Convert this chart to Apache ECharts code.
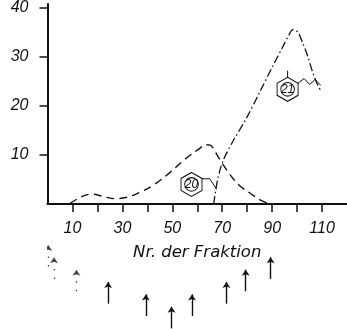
<!DOCTYPE html>
<html>
<head>
<meta charset="utf-8">
<script src="https://cdn.jsdelivr.net/npm/echarts@6/dist/echarts.min.js"></script>
<style>
  html, body { margin: 0; padding: 0; background: #fff; }
  #chart { width: 347px; height: 329px; }
</style>
</head>
<body>
<div id="chart"></div>
<script>
// Fraction axis ticks and labels
const fractionTicks = [10, 20, 30, 40, 50, 60, 70, 80, 90, 100, 110];
const fractionLabels = [10, 30, 50, 70, 90, 110];
const valueTicks = [10, 20, 30, 40];

// Elution curve of compound 20 (dashed)
const curve20 = [
  [9, 0.1], [13.7, 1.5], [17.7, 2.0], [22, 1.6], [27, 1.1], [32, 1.4],
  [37, 2.4], [42.3, 3.8], [49, 6.4], [55, 9.1], [60.3, 11.1], [63.7, 12.1],
  [65.2, 12.0], [67, 10.8], [69, 9.1], [71.7, 7.0], [75, 4.8], [78, 3.3],
  [81.2, 2.2], [85, 0.9], [88.5, 0.1]
];

// Elution curve of compound 21 (dash-dot)
const curve21 = [
  [66.6, 0], [67.2, 2.2], [68.3, 5.3], [70.3, 8.8], [74.3, 12.8], [79.7, 17.5],
  [85, 22.8], [90.3, 28.2], [94.3, 32.1], [96.5, 34.3], [98.3, 35.6],
  [100.3, 35.1], [102.3, 32.8], [104.3, 30.1], [106.3, 26.8], [108.5, 24.0],
  [109.5, 23.2]
];

// Structure markers: ring centre and side chain for each compound
const ring20 = [57.7, 4.0];
const chain20 = [[61.7, 5.15], [65, 5.15], [67.8, 3.0]];
const ring21 = [96.2, 23.4];
const chain21 = [[100.2, 24.6], [102.8, 25.6], [105, 24.4], [107.2, 25.4], [109.5, 24.2]];
const stub21 = [[96.2, 25.7], [96.2, 27.2]];

// Addition marks below the axis: fraction number and row (0 = top row)
const arrowFractions = [0.3, 2.6, 11.6, 24.3, 39.4, 49.7, 57.9, 71.7, 79.4, 89.4];
const arrowRows = [0, 1, 2, 3, 4, 5, 4, 3, 2, 1];
const arrowFaint = [true, true, true, false, false, false, false, false, false, false];
const arrowLength = 1.75;

const ink = '#111';
const tickFont = { fontFamily: 'Liberation Sans', fontStyle: 'italic', fontSize: 16, color: ink };
const nameFont = { fontFamily: 'DejaVu Sans', fontStyle: 'italic', fontSize: 16.5, color: ink };

const hexPath = 'path://M10 0 L20 5.75 L20 17.25 L10 23 L0 17.25 L0 5.75 Z ' +
  'M3.5 11.5 A6.5 6.5 0 1 0 16.5 11.5 A6.5 6.5 0 1 0 3.5 11.5 Z';

function ringMark(coord, text) {
  return {
    coord: coord,
    symbol: hexPath,
    symbolSize: [21, 24],
    itemStyle: { color: 'rgba(0,0,0,0)', borderColor: ink, borderWidth: 1 },
    label: {
      show: true, position: 'inside', formatter: text,
      fontFamily: 'Liberation Sans', fontStyle: 'italic', fontSize: 12, color: ink
    }
  };
}

const arrowData = arrowFractions.map((f, i) => ({
  coords: [[f, arrowRows[i] + arrowLength], [f, arrowRows[i]]],
  lineStyle: arrowFaint[i]
    ? { color: '#333', width: 1.3, type: [1.5, 7], opacity: 0.9 }
    : { color: ink, width: 1.4, type: 'solid', opacity: 1 }
}));

const chart = echarts.init(document.getElementById('chart'), null, { renderer: 'canvas' });

chart.setOption({
  backgroundColor: '#fff',
  animation: false,
  grid: [
    { left: 47.5, right: 0, top: 0, bottom: 125, containLabel: false },
    { left: 47.5, right: 0, top: 245, bottom: 0, containLabel: false }
  ],
  xAxis: [
    {
      type: 'value', gridIndex: 0, min: 0, max: 120,
      name: 'Nr. der Fraktion', nameLocation: 'middle', nameGap: 40,
      nameTextStyle: nameFont,
      axisLine: { lineStyle: { color: ink, width: 2.2 } },
      axisTick: { show: true, length: 8, lineStyle: { color: ink, width: 1.5 }, customValues: fractionTicks },
      axisLabel: Object.assign({ margin: 17, customValues: fractionLabels }, tickFont),
      splitLine: { show: false }
    },
    { type: 'value', gridIndex: 1, min: 0, max: 120, show: false }
  ],
  yAxis: [
    {
      type: 'value', gridIndex: 0, min: 0, max: 40.8,
      axisLine: { show: true, lineStyle: { color: ink, width: 2 } },
      axisTick: { show: true, length: 8, lineStyle: { color: ink, width: 1.5 }, customValues: valueTicks },
      axisLabel: Object.assign({ margin: 19, customValues: valueTicks }, tickFont),
      splitLine: { show: false }
    },
    { type: 'value', gridIndex: 1, min: 0, max: 6.8, inverse: true, show: false }
  ],
  series: [
    {
      type: 'line', name: '20', data: curve20, smooth: 0.4, symbol: 'none',
      lineStyle: { color: ink, width: 1.4, type: [8, 5] },
      markPoint: { data: [ringMark(ring20, '20')], animation: false }
    },
    {
      type: 'line', name: '21', data: curve21, smooth: 0.3, symbol: 'none',
      lineStyle: { color: ink, width: 1.3, type: [8, 3, 1.5, 3] },
      markPoint: { data: [ringMark(ring21, '21')], animation: false }
    },
    { type: 'line', data: chain20, symbol: 'none', lineStyle: { color: ink, width: 1 } },
    { type: 'line', data: chain21, symbol: 'none', lineStyle: { color: ink, width: 1 } },
    { type: 'line', data: stub21, symbol: 'none', lineStyle: { color: ink, width: 1 } },
    {
      type: 'lines', coordinateSystem: 'cartesian2d', xAxisIndex: 1, yAxisIndex: 1,
      symbol: ['none', 'arrow'], symbolSize: 6,
      lineStyle: { opacity: 1 },
      data: arrowData
    }
  ]
});
</script>
</body>
</html>
